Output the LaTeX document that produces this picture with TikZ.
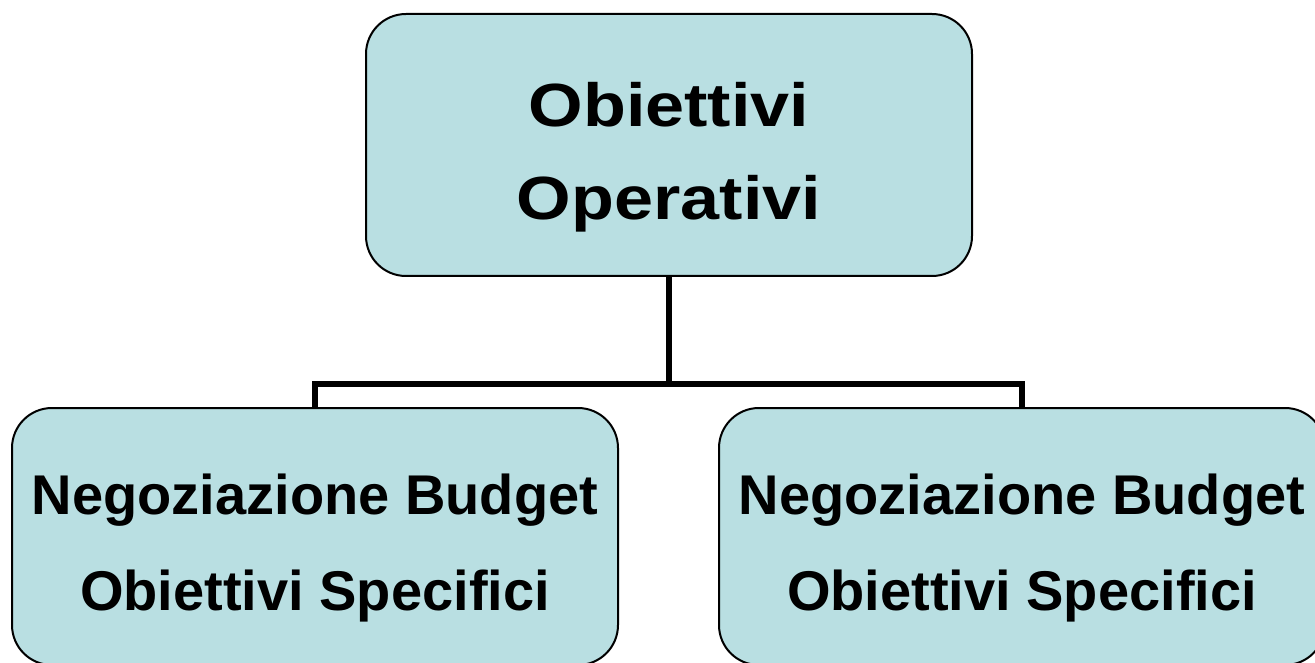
\documentclass[tikz,border=0pt]{standalone}
\usepackage{fontspec}
\setmainfont{Liberation Sans}
\newfontfamily\widefont[FakeStretch=1.15]{Liberation Sans}
\definecolor{boxfill}{HTML}{B9DFE2}
\tikzset{
  orgbox/.style={draw=black, line width=2pt, fill=boxfill, rounded corners=40pt,
    rectangle, inner sep=0pt, outer sep=0pt, minimum width=606pt},
  toptxt/.style={inner sep=0pt, align=center, font=\widefont\bfseries\fontsize{61}{93}\selectfont},
  subtxt/.style={inner sep=0pt, align=center, font=\bfseries\fontsize{56}{96}\selectfont},
  conn/.style={line width=5.5pt, line join=miter}
}
\begin{document}
\begin{tikzpicture}[x=1pt,y=-1pt]
\clip (0,0) rectangle (1315,663);
\fill[white] (0,0) rectangle (1315,663);
\node[orgbox, minimum height=262pt] (topbox) at (669,145) {};
\node[orgbox, minimum height=257pt] (leftbox) at (315,536.5) {};
\node[orgbox, minimum height=257pt] (rightbox) at (1022,536.5) {};
\node[toptxt] (toptext) at (669,157) {Obiettivi\\Operativi};
\node[subtxt] (lefttext) at (315,548.5) {Negoziazione Budget\\Obiettivi Specifici};
\node[subtxt] (righttext) at (1022,548.5) {Negoziazione Budget\\Obiettivi Specifici};
\coordinate (bus) at (669,384);
\draw[conn] (topbox.south) -- (bus);
\draw[conn] (leftbox.north) |- (bus) -| (rightbox.north);
\end{tikzpicture}
\end{document}
